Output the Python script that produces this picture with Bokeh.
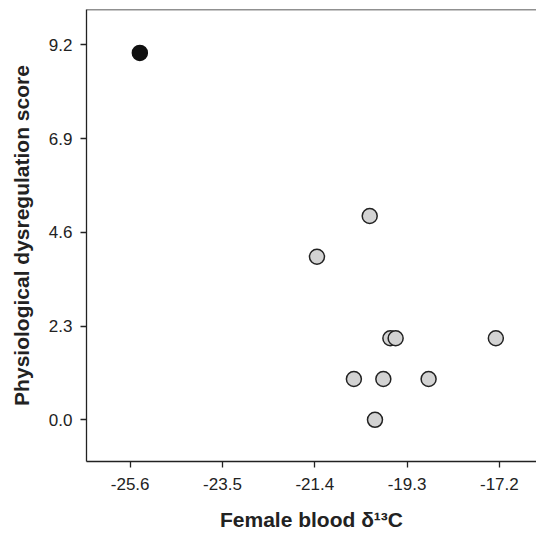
from bokeh.plotting import figure
from bokeh.models import FixedTicker, Range1d, Span, CustomJSTickFormatter
from bokeh.embed import file_html
from bokeh.resources import INLINE

# Data
gray_x = [-20.15, -21.35, -19.68, -19.56, -17.28, -20.51, -19.84, -18.81, -20.03]
gray_y = [5.0, 4.0, 2.0, 2.0, 2.0, 1.0, 1.0, 1.0, 0.0]
black_x = [-25.38]
black_y = [9.0]

x_ticks = [-25.6, -23.5, -21.4, -19.3, -17.2]
y_ticks = [0.0, 2.3, 4.6, 6.9, 9.2]

x_start, x_end = -26.594, -16.355
y_start, y_end = -1.023, 10.066

FONT = "Liberation Sans"
INK = "#222222"

p = figure(width=536, height=541, output_backend="svg", toolbar_location=None,
           x_range=Range1d(x_start, x_end), y_range=Range1d(y_start, y_end),
           min_border_left=86, min_border_right=0, min_border_top=9,
           min_border_bottom=80)

p.outline_line_color = None
p.xgrid.visible = False
p.ygrid.visible = False
p.background_fill_color = "white"
p.border_fill_color = "white"

fmt = CustomJSTickFormatter(code="return tick.toFixed(1);")
for ax, ticks in ((p.xaxis[0], x_ticks), (p.yaxis[0], y_ticks)):
    ax.ticker = FixedTicker(ticks=ticks)
    ax.formatter = fmt
    ax.minor_tick_line_color = None
    ax.major_tick_in = 0
    ax.major_tick_out = 6
    ax.major_tick_line_color = INK
    ax.major_tick_line_width = 1.3
    ax.axis_line_color = INK
    ax.axis_line_width = 1.3
    ax.major_label_text_font = FONT
    ax.major_label_text_font_size = "17px"
    ax.major_label_text_color = INK
    ax.axis_label_text_font = FONT
    ax.axis_label_text_font_style = "bold"
    ax.axis_label_text_font_size = "21px"
    ax.axis_label_text_color = INK

p.xaxis.axis_label = "Female blood δ¹³C"
p.yaxis.axis_label = "Physiological dysregulation score"
p.xaxis.major_label_standoff = 10
p.yaxis.major_label_standoff = 8
p.xaxis.axis_label_standoff = 15
p.yaxis.axis_label_standoff = 13

top_line = Span(location=y_end, dimension="width", line_color=INK, line_width=1.5)
p.add_layout(top_line)

p.scatter(gray_x, gray_y, size=15, fill_color="#d3d3d3", line_color=INK, line_width=1.5)
p.scatter(black_x, black_y, size=15, fill_color="#111111", line_color="#111111", line_width=1.5)

open("out.html", "w").write(file_html(p, INLINE))
